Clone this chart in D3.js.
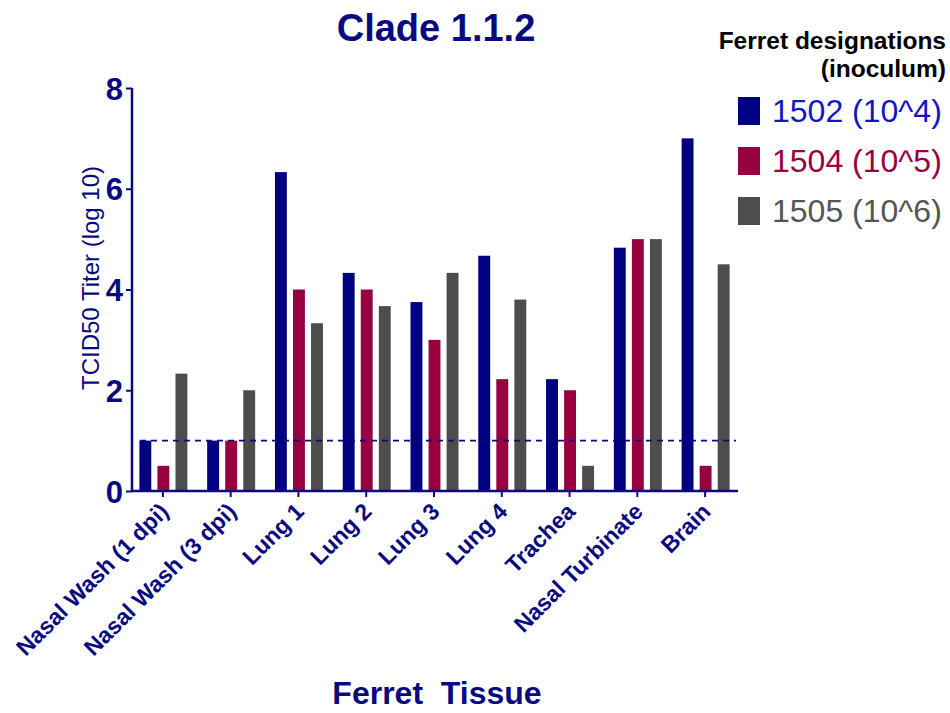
<!DOCTYPE html>
<html>
<head>
<meta charset="utf-8">
<script src="https://cdn.jsdelivr.net/npm/d3@7"></script>
<style>
  body { margin: 0; background: #fff; }
  text { font-family: "Liberation Sans", Arial, sans-serif; }
</style>
</head>
<body>
<div id="chart"></div>
<script>
// tissues on the x axis
var tissues = ["Nasal Wash (1 dpi)", "Nasal Wash (3 dpi)", "Lung 1", "Lung 2", "Lung 3",
               "Lung 4", "Trachea", "Nasal Turbinate", "Brain"];
// one series per ferret
var ferrets = ["1502 (10^4)", "1504 (10^5)", "1505 (10^6)"];
var titer1502 = [1, 1, 6.33, 4.33, 3.75, 4.67, 2.22, 4.83, 7];
var titer1504 = [0.5, 1, 4, 4, 3, 2.22, 2, 5, 0.5];
var titer1505 = [2.33, 2, 3.33, 3.67, 4.33, 3.8, 0.5, 5, 4.5];
var yTicks = [0, 2, 4, 6, 8];
var detectionLimit = 1;

var series = [titer1502, titer1504, titer1505];
var barColors = ["#000080", "#990040", "#4d4d4d"];
var textColors = ["#1414c8", "#990040", "#555555"];
var navy = "#0a0a80";

var W = 950, H = 713;
var svg = d3.select("#chart").append("svg").attr("width", W).attr("height", H);

var x = d3.scaleBand().domain(tissues).range([129, 739]);
var xs = d3.scaleBand().domain(d3.range(3)).range([-23.5, 24.5]).paddingInner(0.34);
var y = d3.scaleLinear().domain([0, 8]).range([491, 88]);

// bars
var g = svg.append("g");
series.forEach(function (vals, si) {
  g.selectAll(".s" + si)
    .data(vals)
    .enter()
    .append("rect")
    .attr("x", function (d, i) { return x(tissues[i]) + x.bandwidth() / 2 + xs(si); })
    .attr("width", xs.bandwidth())
    .attr("y", function (d) { return y(d); })
    .attr("height", function (d) { return y(0) - y(d); })
    .attr("fill", barColors[si]);
});

// dashed limit line
svg.append("line")
  .attr("x1", 140).attr("x2", 736)
  .attr("y1", y(detectionLimit)).attr("y2", y(detectionLimit))
  .attr("stroke", navy).attr("stroke-width", 1.6)
  .attr("stroke-dasharray", "6,5");

// y axis
var yAxis = svg.append("g").attr("transform", "translate(132,0)")
  .call(d3.axisLeft(y).tickValues(yTicks).tickSize(6).tickPadding(3));
yAxis.select(".domain").attr("stroke", navy).attr("stroke-width", 2.5).attr("d", "M0," + y(8) + "V" + y(0));
yAxis.selectAll(".tick line").attr("stroke", navy).attr("stroke-width", 2);
yAxis.selectAll(".tick text")
  .attr("fill", navy).style("font-size", "31px").style("font-weight", "bold")
  .attr("dy", "0.36em");

// x axis
var xAxis = svg.append("g").attr("transform", "translate(0," + y(0) + ")")
  .call(d3.axisBottom(x).tickSize(6).tickSizeOuter(0).tickPadding(0));
xAxis.select(".domain").attr("stroke", navy).attr("stroke-width", 2.5).attr("d", "M131,0H738");
xAxis.selectAll(".tick line").attr("stroke", navy).attr("stroke-width", 2);
xAxis.selectAll(".tick text")
  .attr("fill", navy).style("font-size", "23px").style("font-weight", "bold")
  .attr("text-anchor", "end")
  .attr("transform", "translate(-3,12) rotate(-45)")
  .attr("dy", "0.35em");

// titles
svg.append("text").attr("x", 436).attr("y", 41).attr("text-anchor", "middle")
  .attr("fill", navy).style("font-size", "38px").style("font-weight", "bold")
  .text("Clade 1.1.2");
svg.append("text").attr("x", 437).attr("y", 704).attr("text-anchor", "middle")
  .attr("fill", navy).style("font-size", "32px").style("font-weight", "bold")
  .style("white-space", "pre").text("Ferret  Tissue");
svg.append("text")
  .attr("transform", "translate(99,278) rotate(-90)")
  .attr("text-anchor", "middle").attr("fill", navy).style("font-size", "24px")
  .text("TCID50 Titer (log 10)");

// legend
svg.append("text").attr("x", 946).attr("y", 49).attr("text-anchor", "end")
  .style("font-size", "24.5px").style("font-weight", "bold").attr("fill", "#000")
  .text("Ferret designations");
svg.append("text").attr("x", 946).attr("y", 77).attr("text-anchor", "end")
  .style("font-size", "24.5px").style("font-weight", "bold").attr("fill", "#000")
  .text("(inoculum)");
var leg = svg.selectAll(".leg").data(ferrets).enter().append("g")
  .attr("transform", function (d, i) { return "translate(738," + (97 + i * 50) + ")"; });
leg.append("rect").attr("width", 22).attr("height", 28)
  .attr("fill", function (d, i) { return barColors[i]; });
leg.append("text").attr("x", 34).attr("y", 25)
  .style("font-size", "32px")
  .attr("fill", function (d, i) { return textColors[i]; })
  .text(function (d) { return d; });
</script>
</body>
</html>
